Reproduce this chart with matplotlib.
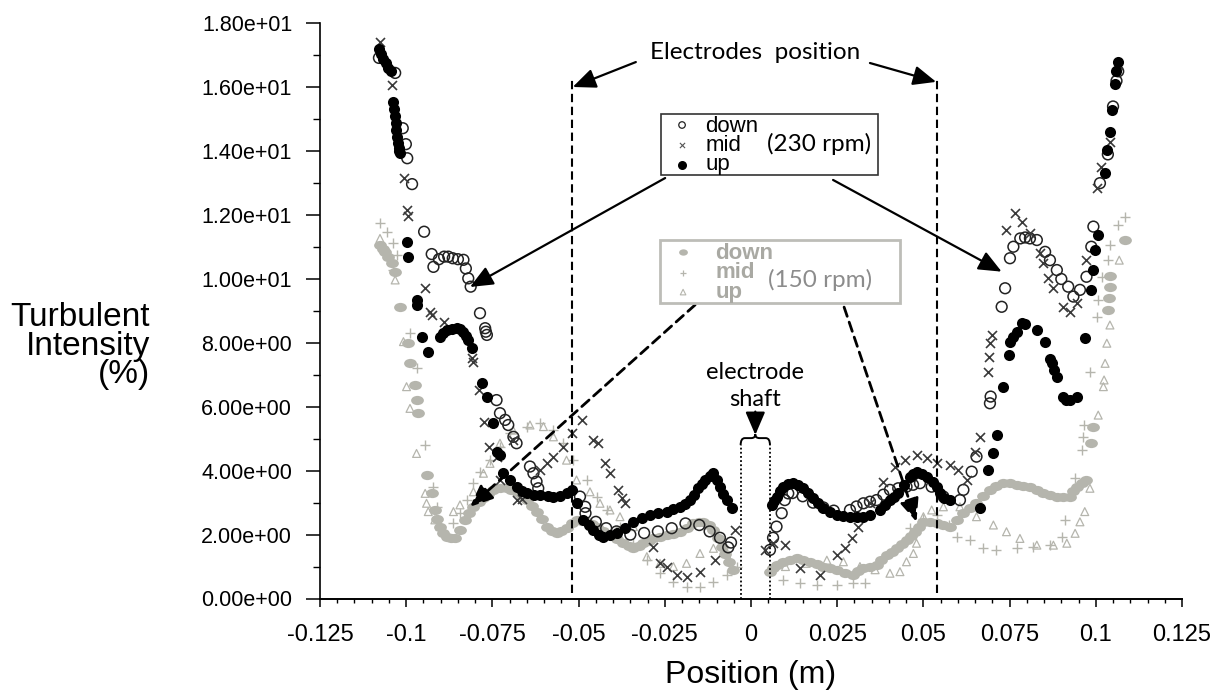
import numpy as np
import matplotlib
matplotlib.use("Agg")
import matplotlib.pyplot as plt
from matplotlib.patches import Rectangle
from matplotlib.path import Path
from matplotlib.patches import PathPatch
import matplotlib.transforms as mtransforms
from matplotlib.ticker import FixedLocator, MultipleLocator, FuncFormatter

# ---------------- data ----------------
# 230 rpm, "up" (filled black circles)
up230_x = [-0.1078, -0.1072, -0.1066, -0.106, -0.1052, -0.1045, -0.1037, -0.1035, -0.1033, -0.1031,
           -0.1029, -0.1027, -0.1024, -0.1022, -0.102, -0.1018, -0.0999, -0.0994, -0.097, -0.0968,
           -0.0955, -0.0936, -0.0902, -0.0893,
           -0.0883, -0.0868, -0.0854, -0.0844, -0.0834, -0.0827, -0.082, -0.081, -0.0781, -0.0767,
           -0.0749, -0.0738, -0.0728, -0.0718, -0.0699, -0.068, -0.0665, -0.065, -0.063, -0.0612,
           -0.059, -0.0573, -0.0555, -0.0535, -0.052, -0.0505, -0.0486, -0.047, -0.0457, -0.044,
           -0.0428, -0.041, -0.039, -0.0365, -0.0341, -0.0317, -0.0293, -0.027, -0.0245, -0.0225,
           -0.0206, -0.019, -0.0177, -0.0165, -0.0153, -0.0143, -0.0133, -0.012, -0.0109, -0.0099,
           -0.009, -0.008, -0.0071, -0.0056,
           0.0060, 0.0067, 0.0074, 0.0084, 0.0094, 0.0108, 0.0123, 0.0137, 0.0152, 0.0166,
           0.0181, 0.0195, 0.021, 0.023, 0.0249, 0.0268, 0.0287, 0.0306, 0.0326, 0.0345,
           0.0374, 0.039, 0.0403, 0.0415, 0.0427, 0.0445, 0.0461, 0.047, 0.048, 0.0495,
           0.0509, 0.0529, 0.0538, 0.0548, 0.056, 0.0577, 0.0664, 0.0688, 0.0703, 0.0713,
           0.0732, 0.0747, 0.0752, 0.0761, 0.0771, 0.0785, 0.0795, 0.0829, 0.0853, 0.0868,
           0.0872, 0.0880, 0.0887, 0.0906, 0.0915, 0.0925, 0.0945, 0.0968, 0.0987, 0.0993,
           0.0998, 0.1007, 0.1027, 0.1032, 0.104, 0.1048, 0.1055, 0.106, 0.1065]
up230_y = [17.2, 17.05, 16.9, 16.75, 16.6, 16.5, 15.55, 15.32, 15.1, 14.88,
           14.66, 14.45, 14.25, 14.1, 14.0, 13.93, 11.17, 10.7, 9.34, 9.18,
           8.19, 7.73, 8.19, 8.3,
           8.4, 8.45, 8.46, 8.42, 8.35, 8.22, 8.09, 7.83, 6.73, 6.32,
           5.48, 4.6, 4.49, 3.92, 3.71, 3.5, 3.38, 3.29, 3.25, 3.24,
           3.2, 3.19, 3.22, 3.29, 3.4, 3.0, 2.46, 2.3, 2.14, 2.0,
           1.93, 1.98, 2.04, 2.2, 2.4, 2.52, 2.61, 2.67, 2.72, 2.8,
           2.87, 2.96, 3.08, 3.25, 3.45, 3.58, 3.71, 3.82, 3.92, 3.72,
           3.5, 3.28, 3.08, 2.82,
           2.93, 3.06, 3.19, 3.35, 3.5, 3.57, 3.61, 3.55, 3.45, 3.3,
           3.14, 2.98, 2.82, 2.7, 2.61, 2.57, 2.56, 2.55, 2.56, 2.61,
           2.77, 2.92, 3.08, 3.18, 3.29, 3.55, 3.81, 3.9, 3.97, 3.9,
           3.81, 3.66, 3.5, 3.29, 3.15, 3.08, 2.82, 4.02, 4.54, 5.12,
           6.63, 7.62, 8.04, 8.2, 8.35, 8.61, 8.6, 8.4, 8.04, 7.5,
           7.36, 7.15, 6.94, 6.32, 6.2, 6.21, 6.32, 8.14, 9.66, 10.28,
           10.91, 11.38, 13.31, 14.04, 14.6, 15.3, 16.1, 16.5, 16.8]

# 230 rpm, "down" (open black circles)
down230_x = [-0.1079, -0.1032, -0.101, -0.1001, -0.0997, -0.0983, -0.0948, -0.0926, -0.0921, -0.0905,
             -0.089, -0.0878, -0.0865, -0.085, -0.0834, -0.0827, -0.082, -0.0813, -0.0786, -0.0771,
             -0.0769, -0.0766, -0.0738, -0.0728, -0.0713, -0.0704, -0.0689, -0.068, -0.0641, -0.0631,
             -0.0622, -0.0617, -0.0496, -0.0481, -0.048, -0.045, -0.042, -0.039, -0.035, -0.031,
             -0.027, -0.023, -0.019, -0.015, -0.012, -0.009, -0.0066, -0.0058,
             0.0055, 0.0064, 0.0074, 0.0089, 0.0098, 0.0108, 0.012, 0.015, 0.018, 0.021,
             0.024, 0.0287, 0.0306, 0.0326, 0.0345, 0.0364, 0.0384, 0.0403, 0.0427, 0.0451,
             0.047, 0.049, 0.0524, 0.0558, 0.0606, 0.0616, 0.064, 0.0654, 0.0693, 0.0695,
             0.0727, 0.0737, 0.0751, 0.0761, 0.0781, 0.0795, 0.0809, 0.0829, 0.0853, 0.0867,
             0.0887, 0.090, 0.092, 0.0935, 0.0954, 0.0973, 0.0987, 0.0993, 0.1012, 0.1035,
             0.105, 0.106, 0.1065]
down230_y = [16.92, 16.45, 14.72, 14.22, 13.78, 12.97, 11.48, 10.78, 10.38, 10.62,
             10.7, 10.7, 10.65, 10.62, 10.6, 10.33, 10.02, 9.76, 8.93, 8.46,
             8.35, 8.25, 6.21, 5.8, 5.59, 5.43, 5.06, 4.86, 4.13, 3.92,
             3.66, 3.45, 3.19, 2.87, 2.67, 2.4, 2.2, 2.1, 2.0, 2.05,
             2.1, 2.2, 2.35, 2.3, 2.1, 1.9, 1.6, 1.75,
             1.52, 1.9, 2.25, 2.67, 3.08, 3.29, 3.3, 3.2, 3.0, 2.85,
             2.75, 2.77, 2.88, 2.98, 3.03, 3.08, 3.25, 3.4, 3.45, 3.5,
             3.56, 3.61, 3.5, 3.19, 3.08, 3.4, 3.97, 4.44, 6.11, 6.32,
             9.13, 9.71, 10.65, 11.01, 11.27, 11.3, 11.27, 11.22, 10.85, 10.59,
             10.28, 10.0, 9.76, 9.45, 9.66, 10.07, 11.01, 11.64, 13.0, 13.9,
             15.4, 16.2, 16.5]

# 230 rpm, "mid" (x markers)
mid230_x = [-0.1076, -0.104, -0.1007, -0.0997, -0.0996, -0.0945, -0.0931, -0.0925, -0.089, -0.081,
            -0.0805, -0.079, -0.0775, -0.0761, -0.0738, -0.0728, -0.069, -0.068, -0.0665, -0.0612,
            -0.0593, -0.0573, -0.0544, -0.052, -0.0491, -0.0457, -0.0443, -0.0423, -0.0409, -0.0385,
            -0.0375, -0.0365, -0.0283, -0.0264, -0.0245, -0.0216, -0.0187, -0.0148, -0.0105, -0.0046,
            0.0041, 0.0065, 0.0098, 0.0142, 0.020, 0.0249, 0.0273, 0.0292, 0.0311, 0.0345,
            0.0384, 0.0418, 0.0447, 0.048, 0.0509, 0.0538, 0.0577, 0.0601, 0.0625, 0.0649,
            0.0664, 0.0688, 0.0691, 0.0693, 0.0700, 0.0741, 0.0765, 0.0785, 0.0809, 0.0838,
            0.0848, 0.0862, 0.0877, 0.0906, 0.0925, 0.0945, 0.0973, 0.1003, 0.1015, 0.104,
            0.1065]
mid230_y = [17.43, 16.07, 13.15, 12.16, 11.96, 9.71, 8.98, 8.87, 8.66, 7.52,
            7.41, 6.53, 5.53, 4.75, 4.44, 3.71, 4.96, 3.08, 3.1, 4.02,
            4.23, 4.44, 4.75, 5.17, 5.59, 4.96, 4.86, 4.23, 3.92, 3.4,
            3.14, 2.98, 1.62, 1.1, 1.0, 0.74, 0.68, 0.84, 1.2, 2.14,
            1.52, 1.73, 1.67, 0.94, 0.74, 1.36, 1.57, 1.88, 2.25, 2.98,
            3.66, 4.13, 4.33, 4.49, 4.39, 4.23, 4.18, 4.02, 3.71, 4.6,
            5.06, 7.1, 7.57, 7.99, 8.25, 11.53, 12.06, 11.79, 11.43, 10.8,
            10.49, 10.02, 9.71, 9.13, 8.98, 9.24, 10.59, 12.84, 13.5, 14.3,
            16.7]

# 150 rpm, "down" (filled grey)
down150_x = [-0.1076, -0.1068, -0.1061, -0.1052, -0.1042, -0.1032, -0.1018, -0.0994, -0.0989, -0.0974,
             -0.097, -0.0965, -0.0941, -0.0926, -0.0917, -0.091, -0.0902, -0.0893, -0.0883, -0.0871,
             -0.0859, -0.0845, -0.0829, -0.0817, -0.0805, -0.079, -0.0776, -0.0762, -0.0747, -0.0728,
             -0.0709, -0.0695, -0.068, -0.0665, -0.065, -0.0636, -0.0621, -0.0607, -0.0593, -0.0578,
             -0.0564, -0.055, -0.0535, -0.052, -0.0506, -0.049, -0.0477, -0.0462, -0.0448, -0.0428,
             -0.0409, -0.039, -0.037, -0.0355, -0.0341, -0.0326, -0.0312, -0.0297, -0.0283, -0.0264,
             -0.0245, -0.0225, -0.0206, -0.0187, -0.0167, -0.0152, -0.0138, -0.0123, -0.0109, -0.0097,
             -0.0085, -0.0075, -0.0065, -0.0051,
             0.0055, 0.0065, 0.0075, 0.0094, 0.0113, 0.0133, 0.0152, 0.0172, 0.0191, 0.021,
             0.023, 0.0249, 0.0273, 0.0297, 0.031, 0.0326, 0.0345, 0.0364, 0.0378, 0.0393,
             0.0408, 0.0423, 0.0437, 0.0451, 0.0464, 0.0476, 0.0488, 0.05, 0.0519, 0.0538,
             0.0558, 0.0577, 0.0597, 0.0616, 0.0635, 0.0654, 0.0674, 0.0693, 0.0712, 0.0732,
             0.0751, 0.0771, 0.079, 0.0809, 0.0829, 0.0848, 0.0867, 0.0887, 0.0906, 0.0925,
             0.0935, 0.0945, 0.096, 0.0973, 0.0987, 0.0993, 0.1035, 0.1038, 0.104, 0.1042,
             0.1085]
down150_y = [11.06, 10.95, 10.85, 10.7, 10.49, 10.23, 9.13, 7.99, 7.36, 6.68,
             6.21, 5.8, 3.87, 3.29, 2.77, 2.5, 2.25, 2.05, 1.93, 1.88,
             1.88, 2.15, 2.46, 2.68, 2.87, 3.02, 3.14, 3.28, 3.4, 3.45,
             3.45, 3.4, 3.34, 3.22, 3.08, 2.9, 2.72, 2.48, 2.25, 2.12,
             2.04, 2.1, 2.2, 2.35, 2.46, 2.44, 2.4, 2.33, 2.25, 2.12,
             1.99, 1.86, 1.73, 1.63, 1.57, 1.64, 1.73, 1.8, 1.88, 1.94,
             1.99, 2.03, 2.09, 2.2, 2.35, 2.4, 2.4, 2.3, 2.14, 1.9,
             1.62, 1.38, 1.15, 0.89,
             0.84, 0.95, 1.05, 1.15, 1.22, 1.26, 1.22, 1.15, 1.08, 1.0,
             0.95, 0.89, 0.8, 0.74, 0.85, 0.94, 1.0, 1.05, 1.2, 1.36,
             1.46, 1.57, 1.7, 1.83, 1.96, 2.09, 2.25, 2.4, 2.38, 2.35,
             2.3, 2.25, 2.45, 2.67, 2.83, 2.98, 3.2, 3.4, 3.52, 3.61,
             3.6, 3.55, 3.53, 3.5, 3.4, 3.29, 3.23, 3.19, 3.18, 3.19,
             3.35, 3.5, 3.62, 3.71, 4.86, 5.38, 9.03, 9.4, 9.76, 10.1,
             11.22]

# 150 rpm, "mid" (+ markers)
mid150_x = [-0.1076, -0.1057, -0.1037, -0.1028, -0.1037, -0.099, -0.097, -0.0945, -0.0921, -0.0911,
            -0.0863, -0.0844, -0.0825, -0.0805, -0.0786, -0.0757, -0.0728, -0.0699, -0.065, -0.0612,
            -0.0573, -0.0544, -0.0515, -0.0477, -0.0448, -0.0418, -0.038, -0.0341, -0.0302, -0.0264,
            -0.0225, -0.0187, -0.0148, -0.0109, -0.0071, -0.0042,
            0.0094, 0.0142, 0.0191, 0.0249, 0.0297, 0.033, 0.046, 0.050, 0.054, 0.0575,
            0.0596, 0.0635, 0.0674, 0.0712, 0.0771, 0.0819, 0.0867, 0.0901, 0.0911, 0.094,
            0.096, 0.0962, 0.0965, 0.0983, 0.1003, 0.1007, 0.1017, 0.1036, 0.1041, 0.1065,
            0.1085]
mid150_y = [11.74, 11.48, 11.12, 10.75, 10.28, 8.3, 7.2, 4.8, 3.5, 2.87,
            2.35, 2.67, 3.08, 3.61, 3.97, 4.33, 4.75, 5.17, 5.38, 5.48,
            5.27, 4.86, 4.33, 3.71, 3.19, 2.77, 2.25, 1.73, 1.2, 0.79,
            0.53, 0.37, 0.37, 0.53, 0.74, 1.0,
            0.58, 0.47, 0.42, 0.42, 0.47, 0.5, 2.2, 2.5, 2.6, 2.3,
            1.93, 1.83, 1.57, 1.52, 1.57, 1.62, 1.67, 1.93, 2.46, 3.76,
            4.65, 5.06, 5.43, 7.1, 8.82, 9.34, 10.07, 10.59, 11.06, 11.69,
            11.95]

# 150 rpm, "up" (open grey triangles)
up150_x = [-0.1076, -0.1032, -0.1008, -0.0999, -0.0989, -0.097, -0.0945, -0.0941, -0.0936, -0.0917,
           -0.0902, -0.0863, -0.0844, -0.0805, -0.0776, -0.0757, -0.0728, -0.069, -0.0641, -0.0602,
           -0.0573, -0.0535, -0.0506, -0.0467, -0.0438, -0.0409, -0.038, -0.0341, -0.0302, -0.0264,
           -0.0225, -0.0187, -0.0148, -0.0109, -0.0071,
           0.0055, 0.010, 0.016, 0.022, 0.0268, 0.0316, 0.036, 0.0403, 0.0432, 0.0451,
           0.0471, 0.048, 0.05, 0.0524, 0.0558, 0.0606, 0.0654, 0.0703, 0.0741, 0.078,
           0.0829, 0.0877, 0.0916, 0.094, 0.0954, 0.0968, 0.0983, 0.1007, 0.1022, 0.1024,
           0.1027, 0.1032, 0.1041, 0.1068]
up150_y = [11.27, 9.97, 8.04, 6.63, 5.95, 4.54, 3.29, 2.98, 2.72, 2.46,
           2.25, 2.72, 2.93, 3.34, 3.92, 4.23, 4.86, 5.27, 5.43, 5.38,
           5.06, 4.33, 3.71, 3.34, 2.98, 2.77, 2.56, 2.25, 1.31, 1.1,
           1.0, 1.1, 1.41, 1.57, 1.41,
           0.89, 1.0, 1.1, 1.2, 1.15, 1.0, 0.9, 0.79, 0.84, 1.15,
           1.41, 1.73, 2.56, 2.77, 2.87, 2.87, 2.56, 2.3, 2.09, 1.88,
           1.67, 1.67, 1.73, 2.04, 2.4, 2.72, 3.45, 5.74, 6.63, 6.84,
           7.36, 7.99, 8.56, 10.59]

x_ticks = [-0.125, -0.1, -0.075, -0.05, -0.025, 0.0, 0.025, 0.05, 0.075, 0.1, 0.125]
x_tick_labels = ["-0.125", "-0.1", "-0.075", "-0.05", "-0.025", "0",
                 "0.025", "0.05", "0.075", "0.1", "0.125"]
y_ticks = [0, 2, 4, 6, 8, 10, 12, 14, 16, 18]

electrode_x = [-0.0519, 0.0539]     # electrodes position (dashed lines)
shaft_x = [-0.0030, 0.0055]         # electrode shaft (dotted lines)

# ---------------- styling ----------------
GREY = "#b5b5ad"
BLACK = "black"
SANS = ["Liberation Sans", "DejaVu Sans"]
NARROW = ["Liberation Sans Narrow", "Liberation Sans", "DejaVu Sans"]
CAL = ["Lato", "DejaVu Sans"]

W, H = 1214, 698
fig = plt.figure(figsize=(W / 100, H / 100), dpi=100)
ax = fig.add_axes([320 / W, 1 - 598.5 / H, 862 / W, (598.5 - 23.4) / H])

ax.set_xlim(-0.125, 0.125)
ax.set_ylim(0, 18)

# ellipse marker for grey dots
ell = Path.unit_circle().transformed(mtransforms.Affine2D().scale(1.0, 0.72))

ax.scatter(down150_x, down150_y, s=85, marker=ell, color=GREY, linewidths=0, zorder=2)
ax.scatter(mid150_x, mid150_y, s=50, marker="+", color=GREY, linewidths=1.0, zorder=2)
ax.scatter(up150_x, up150_y, s=32, marker="^", facecolors="none", edgecolors=GREY,
           linewidths=0.9, zorder=2)
ax.scatter(down230_x, down230_y, s=60, marker="o", facecolors="none", edgecolors="#222222",
           linewidths=1.1, zorder=3)
ax.scatter(mid230_x, mid230_y, s=42, marker="x", color="#3a3a3a", linewidths=1.2, zorder=3)
ax.scatter(up230_x, up230_y, s=64, marker="o", color=BLACK, linewidths=0, zorder=4)

# axes style
for side in ("top", "right"):
    ax.spines[side].set_visible(False)
ax.spines["left"].set_linewidth(1.2)
ax.spines["bottom"].set_linewidth(1.4)
ax.xaxis.set_major_locator(FixedLocator(x_ticks))
ax.set_xticklabels(x_tick_labels)
ax.xaxis.set_minor_locator(MultipleLocator(0.005))
ax.yaxis.set_major_locator(FixedLocator(y_ticks))
ax.yaxis.set_minor_locator(MultipleLocator(1))
ax.yaxis.set_major_formatter(FuncFormatter(lambda v, p: f"{v:.2e}"))
ax.tick_params(axis="y", which="major", length=10, width=1.1, direction="out", pad=10,
               labelsize=15.5)
ax.tick_params(axis="y", which="minor", length=5, width=1.0, direction="out")
ax.tick_params(axis="x", which="major", length=5.5, width=1.1, direction="out", pad=13,
               labelsize=17)
ax.tick_params(axis="x", which="minor", length=3, width=1.0, direction="out")
for lab in ax.get_yticklabels():
    lab.set_family(SANS)
for lab in ax.get_xticklabels():
    lab.set_family(NARROW)

ax.set_xlabel("Position (m)", fontsize=23, family=SANS, labelpad=10)
fig.text(150 / W, 1 - 346 / H, "Turbulent\nIntensity\n(%)", ha="right", va="center",
         multialignment="right", fontsize=24, family=SANS, linespacing=0.9)

# electrode position dashed lines
for xe in electrode_x:
    ax.plot([xe, xe], [0.17, 16.3], color="black", lw=1.5, dashes=(4, 2.2), zorder=5)
ax.text(0.0012, 17.1, "Electrodes  position", ha="center", va="center", fontsize=17.5,
        family=CAL, zorder=6)
arrow_solid = dict(arrowstyle="-|>,head_length=0.7,head_width=0.3", color="black", lw=1.6,
                   shrinkA=0, shrinkB=0, mutation_scale=20)
ax.annotate("", xy=(-0.0517, 16.01), xytext=(-0.0334, 16.79), arrowprops=arrow_solid, zorder=6)
ax.annotate("", xy=(0.0537, 16.17), xytext=(0.0345, 16.76), arrowprops=arrow_solid, zorder=6)

# shaft
for xs in shaft_x:
    ax.plot([xs, xs], [0.0, 4.8], color="black", lw=1.3, dashes=(1, 1.3), zorder=5)
xl, xr = shaft_x
xc = 0.5 * (xl + xr)
r = 0.0012
verts = [(xl, 4.8), (xl, 5.02), (xl + r, 5.02), (xc - r, 5.02), (xc, 5.02), (xc, 5.14),
         (xc, 5.02), (xc + r, 5.02), (xr - r, 5.02), (xr, 5.02), (xr, 4.8)]
codes = [Path.MOVETO, Path.CURVE3, Path.CURVE3, Path.LINETO, Path.CURVE3, Path.CURVE3,
         Path.CURVE3, Path.CURVE3, Path.LINETO, Path.CURVE3, Path.CURVE3]
ax.add_patch(PathPatch(Path(verts, codes), fill=False, lw=1.4, color="black", zorder=6))
ax.text(xc, 6.65, "electrode\nshaft", ha="center", va="center", fontsize=17, family=CAL,
        linespacing=1.3, zorder=6)
ax.annotate("", xy=(xc, 5.12), xytext=(xc, 5.85), arrowprops=arrow_solid, zorder=6)

# legend box 230 rpm
ax.add_patch(Rectangle((-0.0261, 13.26), 0.0629, 1.90, fill=True, facecolor="white",
                       edgecolor="#333333", lw=1.2, zorder=7))
ax.scatter([-0.020], [14.82], s=22, marker="o", facecolors="none", edgecolors="#222222",
           linewidths=0.9, zorder=8)
ax.scatter([-0.020], [14.19], s=14, marker="x", color="#555555", linewidths=0.8, zorder=8)
ax.scatter([-0.020], [13.57], s=30, marker="o", color="black", zorder=8)
for yy, t in zip([14.78, 14.17, 13.57], ["down", "mid", "up"]):
    ax.text(-0.0133, yy, t, ha="left", va="center", fontsize=16, family=SANS, zorder=8)
ax.text(0.0046, 14.22, "(230 rpm)", ha="left", va="center", fontsize=17.5, family=CAL, zorder=8)

# legend box 150 rpm
ax.add_patch(Rectangle((-0.0264, 9.25), 0.0696, 1.97, fill=True, facecolor="white",
                       edgecolor="#bdbdb8", lw=2.0, zorder=7))
ax.scatter([-0.0197], [10.84], s=40, marker=ell, color=GREY, linewidths=0, zorder=8)
ax.scatter([-0.0197], [10.19], s=22, marker="+", color=GREY, linewidths=0.9, zorder=8)
ax.scatter([-0.0197], [9.59], s=16, marker="^", facecolors="none", edgecolors=GREY,
           linewidths=0.8, zorder=8)
for yy, t in zip([10.80, 10.19, 9.57], ["down", "mid", "up"]):
    ax.text(-0.0104, yy, t, ha="left", va="center", fontsize=16, family=SANS,
            fontweight="bold", color="#a9a9a3", zorder=8)
ax.text(0.0049, 9.97, "(150 rpm)", ha="left", va="center", fontsize=17.5, family=CAL,
        color="#8c8c8c", zorder=8)

# arrows from legends
ax.annotate("", xy=(-0.0815, 9.75), xytext=(-0.0249, 13.16), arrowprops=arrow_solid, zorder=6)
ax.annotate("", xy=(0.0727, 10.23), xytext=(0.0238, 13.10), arrowprops=arrow_solid, zorder=6)
arrow_dash = dict(arrowstyle="-|>,head_length=0.7,head_width=0.3", color="black", lw=2.0,
                  linestyle=(0, (3.5, 2.2)), shrinkA=0, shrinkB=0, mutation_scale=20)
ax.annotate("", xy=(-0.0815, 2.87), xytext=(-0.0162, 9.19), arrowprops=arrow_dash, zorder=6)
ax.annotate("", xy=(0.0480, 2.40), xytext=(0.0270, 9.12), arrowprops=arrow_dash, zorder=6)

fig.savefig("out.png", dpi=100)
